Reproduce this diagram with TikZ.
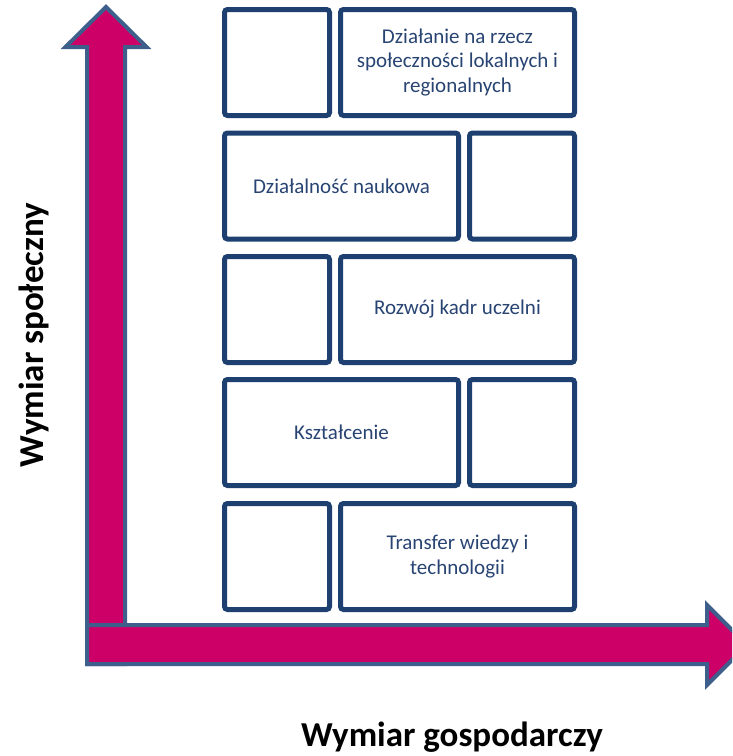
\documentclass[tikz,border=0pt]{standalone}
\usepackage{fontspec}
\setmainfont{Carlito}
\begin{document}
\begin{tikzpicture}[x=1pt,y=-1pt,
  arrowshape/.style={draw=arrowblue,fill=axpink,line width=4pt,line join=miter},
  brick/.style={draw=boxblue,line width=5pt,rounded corners=3pt,minimum height=106pt,inner sep=0pt,
    text=txtblue,font=\fontsize{21}{24.5}\selectfont,align=center},
  smallbrick/.style={brick,minimum width=105pt},
  bigbrick/.style={brick,minimum width=234pt},
  axislabel/.style={font=\fontsize{35}{40}\selectfont\bfseries,text=black,inner sep=0pt}
]
\definecolor{axpink}{RGB}{204,0,102}
\definecolor{arrowblue}{RGB}{62,94,140}
\definecolor{boxblue}{RGB}{30,64,112}
\definecolor{txtblue}{RGB}{40,68,114}
\useasboundingbox (0,0) rectangle (732,756);
\clip (0,0) rectangle (732,756);
% axes arrows
\draw[arrowshape] (87,664) -- (87,47) -- (65.5,47) -- (106,7) -- (146.5,47) -- (125,47) -- (125,664) -- cycle;
\draw[arrowshape] (87,625) -- (707,625) -- (707,605) -- (747,645) -- (707,685) -- (707,664) -- (87,664) -- cycle;
% row 1
\node[smallbrick] (r1a) at (277,62.5) {};
\node[bigbrick] (r1b) at (457.5,62.5) {Działanie na rzecz\\społeczności lokalnych i\\regionalnych};
% row 2
\node[bigbrick] (r2a) at (341.5,186) {Działalność naukowa};
\node[smallbrick] (r2b) at (522,186) {};
% row 3
\node[smallbrick] (r3a) at (277,309.5) {};
\node[bigbrick] (r3b) at (457.5,309.5) {Rozwój kadr uczelni};
% row 4
\node[bigbrick] (r4a) at (341.5,432.5) {Kształcenie};
\node[smallbrick] (r4b) at (522,432.5) {};
% row 5
\node[smallbrick] (r5a) at (277,556.5) {};
\node[bigbrick] (r5b) at (457.5,556.5) {Transfer wiedzy i\\technologii};
% labels
\node[axislabel,rotate=90] (ylab) at (34,335) {Wymiar społeczny};
\node[axislabel] (xlab) at (452,737) {Wymiar gospodarczy};
\end{tikzpicture}
\end{document}
